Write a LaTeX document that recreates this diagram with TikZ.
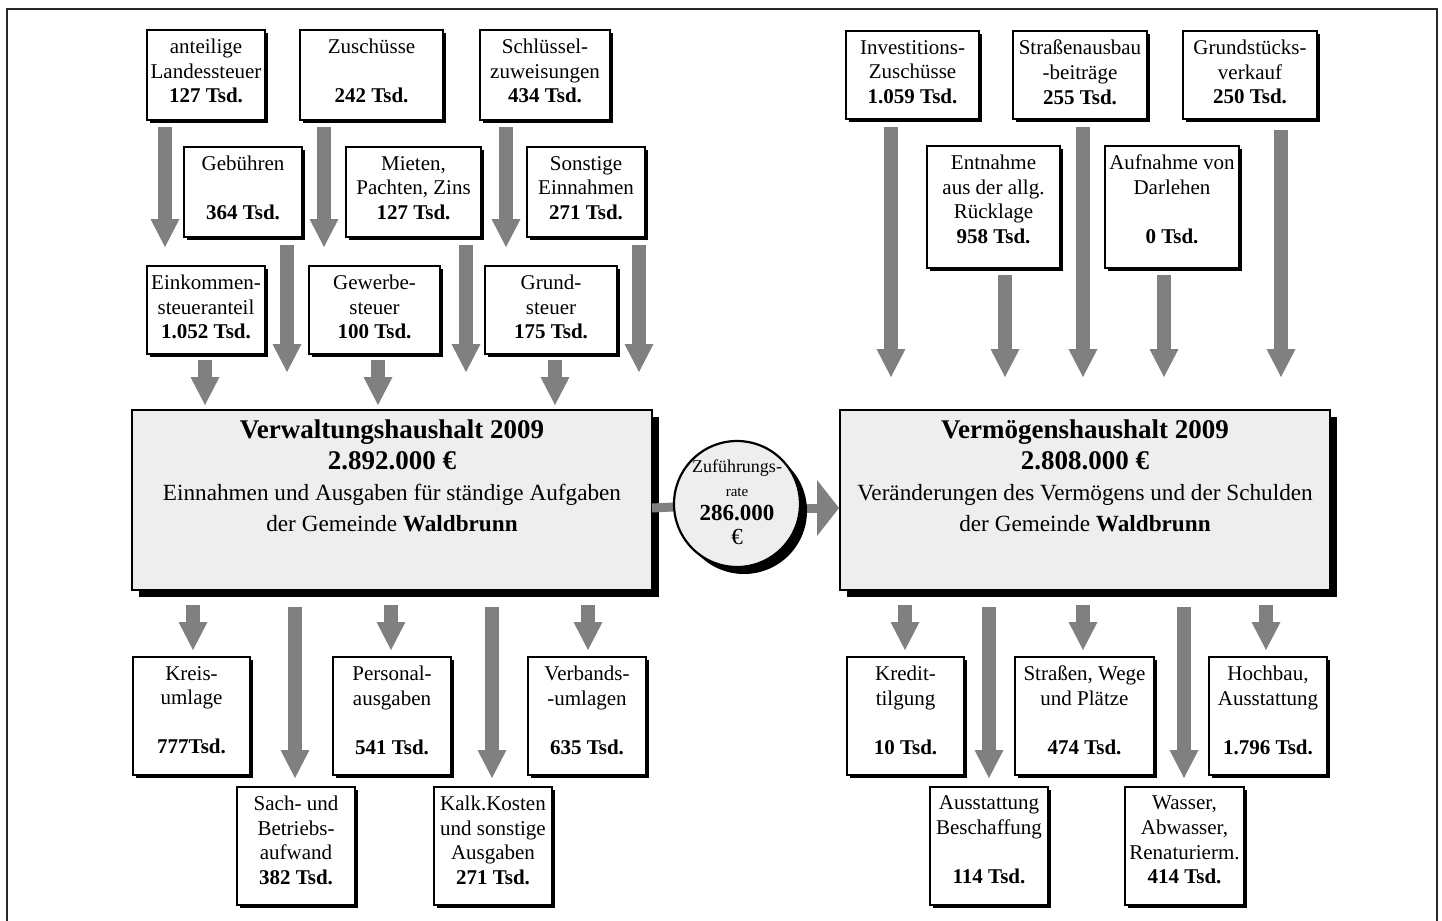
\documentclass[tikz,border=0pt]{standalone}
\usepackage{fontspec}
\setmainfont{Liberation Serif}
\usetikzlibrary{arrows.meta,fit}
\definecolor{arrgray}{RGB}{128,128,128}
\definecolor{boxgray}{RGB}{238,238,238}
\definecolor{framecol}{RGB}{40,40,40}
\tikzset{
  smallbox/.style={draw=black, line width=1.3pt, fill=white, inner sep=0pt},
  smalltext/.style={anchor=north, align=center, inner sep=0pt, font=\fontsize{10.5}{12.3}\selectfont},
  bigbox/.style={draw=black, line width=1.2pt, fill=boxgray, inner sep=0pt},
  bigtext/.style={anchor=north, align=center, inner sep=0pt, font=\fontsize{11.6}{15.4}\selectfont},
  barrow/.style={draw=arrgray, line width=7pt, -{Triangle[width=14.5pt,length=14pt,line width=0pt]}},
  linkarrow/.style={draw=arrgray, line width=4.5pt, -{Triangle[width=28pt,length=11pt,line width=0pt]}},
}
\newcommand{\mybox}[6]{%
  \fill[black] ({#2+2.5},{#3+2.5}) rectangle ({#4+2.5},{#5+2.5});
  \node[smallbox, fit={(#2,#3) (#4,#5)}] (#1) {};
  \node[smalltext] (#1t) at ([yshift=-5pt]#1.north) {#6};
}
\begin{document}
\begin{tikzpicture}[x=0.5pt,y=-0.5pt]
\useasboundingbox (0,0) rectangle (1442,921);
\fill[white] (0,0) rectangle (1442,921);
\draw[framecol, line width=1.1pt] (7,9) rectangle (1437,980);

% ---------- top left ----------
\mybox{lA}{147}{30}{265}{120}{anteilige\\Landessteuer\\\textbf{127 Tsd.}}
\mybox{lB}{300}{30}{443}{120}{Zuschüsse\\[12.3pt]\textbf{242 Tsd.}}
\mybox{lC}{480}{30}{610}{120}{Schlüssel-\\zuweisungen\\\textbf{434 Tsd.}}
\mybox{lD}{184}{147}{302}{237}{Gebühren\\[12.3pt]\textbf{364 Tsd.}}
\mybox{lE}{346}{147}{481}{237}{Mieten,\\Pachten, Zins\\\textbf{127 Tsd.}}
\mybox{lF}{527}{147}{645}{237}{Sonstige\\Einnahmen\\\textbf{271 Tsd.}}
\mybox{lG}{147}{266}{265}{354}{Einkommen-\\steueranteil\\\textbf{1.052 Tsd.}}
\mybox{lH}{309}{266}{440}{354}{Gewerbe-\\steuer\\\textbf{100 Tsd.}}
\mybox{lI}{485}{266}{617}{354}{Grund-\\steuer\\\textbf{175 Tsd.}}

% ---------- top right ----------
\mybox{rA}{846}{31}{979}{119}{Investitions-\\Zuschüsse\\\textbf{1.059 Tsd.}}
\mybox{rB}{1013}{31}{1147}{119}{Straßenausbau\\-beiträge\\\textbf{255 Tsd.}}
\mybox{rC}{1183}{31}{1317}{119}{Grundstücks-\\verkauf\\\textbf{250 Tsd.}}
\mybox{rD}{927}{146}{1060}{268}{Entnahme\\aus der allg.\\Rücklage\\\textbf{958 Tsd.}}
\mybox{rE}{1105}{146}{1239}{268}{Aufnahme von\\Darlehen\\[12.3pt]\textbf{0 Tsd.}}

% ---------- bottom left ----------
\mybox{bA}{133}{657}{250}{775}{Kreis-\\umlage\\[12.3pt]\textbf{777Tsd.}}
\mybox{bB}{333}{657}{451}{775}{Personal-\\ausgaben\\[12.3pt]\textbf{541 Tsd.}}
\mybox{bC}{528}{657}{646}{775}{Verbands-\\-umlagen\\[12.3pt]\textbf{635 Tsd.}}
\mybox{bD}{237}{787}{355}{905}{Sach- und\\Betriebs-\\aufwand\\\textbf{382 Tsd.}}
\mybox{bE}{434}{787}{552}{905}{Kalk.Kosten\\und sonstige\\Ausgaben\\\textbf{271 Tsd.}}

% ---------- bottom right ----------
\mybox{cA}{847}{657}{964}{775}{Kredit-\\tilgung\\[12.3pt]\textbf{10 Tsd.}}
\mybox{cB}{1015}{657}{1154}{775}{Straßen, Wege\\und Plätze\\[12.3pt]\textbf{474 Tsd.}}
\mybox{cC}{1209}{657}{1327}{775}{Hochbau,\\Ausstattung\\[12.3pt]\textbf{1.796 Tsd.}}
\mybox{cD}{930}{787}{1048}{905}{Ausstattung\\Beschaffung\\[12.3pt]\textbf{114 Tsd.}}
\mybox{cE}{1125}{787}{1244}{905}{Wasser,\\Abwasser,\\Renaturierm.\\\textbf{414 Tsd.}}

% ---------- main boxes ----------
\fill[black] (139,417) rectangle (659,597);
\node[bigbox, fit={(132,410) (652,590)}] (vw) {};
\node[bigtext] (vwt) at ([yshift=-5.5pt]vw.north) {{\fontsize{13.5}{15.4}\selectfont\bfseries Verwaltungshaushalt 2009}\\{\fontsize{13.5}{15.4}\selectfont\bfseries 2.892.000 €}\\Einnahmen und Ausgaben für ständige Aufgaben\\der Gemeinde \textbf{Waldbrunn}};

\fill[black] (847,417) rectangle (1337,597);
\node[bigbox, fit={(840,410) (1330,590)}] (vm) {};
\node[bigtext] (vmt) at ([yshift=-5.5pt]vm.north) {{\fontsize{13.5}{15.4}\selectfont\bfseries Vermögenshaushalt 2009}\\{\fontsize{13.5}{15.4}\selectfont\bfseries 2.808.000 €}\\Veränderungen des Vermögens und der Schulden\\der Gemeinde \textbf{Waldbrunn}};

% ---------- Zuführungsrate ----------
\coordinate (cc) at (737,504);
\coordinate (lk1) at (652,508);
\coordinate (lk2) at (800,508);
\coordinate (lk3) at (839,508);
\draw[arrgray, line width=4.5pt] (lk1) -- (cc);
\draw[linkarrow] (lk2) -- (lk3);
\fill[black] (744,511) circle[radius=63];
\node[circle, draw=black, line width=1.1pt, fill=boxgray, minimum size=63pt, inner sep=0pt] (zr) at (cc) {};
\node[align=center, inner sep=0pt, anchor=north] (zrt) at ([yshift=-10pt]zr.north) {{\fontsize{9}{10}\selectfont Zuführungs-}\\{\fontsize{7.5}{10.5}\selectfont rate}\\{\fontsize{11.5}{12.5}\selectfont\bfseries 286.000}\\{\fontsize{11.5}{14}\selectfont €}};

% ---------- block arrows ----------
\foreach \n/\x/\ya/\yb in {t1/165/127/247, t2/324/127/247, t3/506/127/247,
  t4/287/245/372, t5/466/245/372, t6/639/245/372,
  t7/205/360/405, t8/378/360/405, t9/555/360/405,
  u1/891/127/377, u2/1005/275/377, u3/1083/127/377, u4/1164/275/377, u5/1281/130/377,
  d1/193/605/650, d2/391/605/650, d3/588/605/650, d4/295/607/778, d5/492/607/778,
  e1/905/605/650, e2/1083/605/650, e3/1266/605/650, e4/989/607/778, e5/1184/607/778}{
  \coordinate (\n s) at (\x,\ya);
  \coordinate (\n e) at (\x,\yb);
  \draw[barrow] (\n s) -- (\n e);
}
\end{tikzpicture}
\end{document}
